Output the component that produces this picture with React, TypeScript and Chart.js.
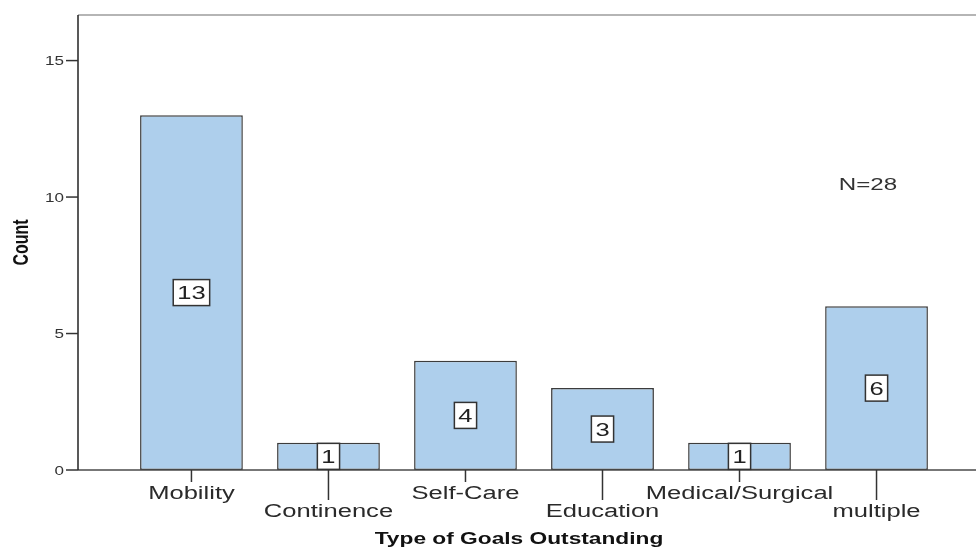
import React, { useEffect, useRef } from "react";
import { Chart, registerables } from "chart.js";

Chart.register(...registerables);

// Goal types and their counts
const categories = ["Mobility", "Continence", "Self-Care", "Education", "Medical/Surgical", "multiple"];
const counts = [13, 1, 4, 3, 1, 6];
const yTicks = [0, 5, 10, 15];
const totalLabel = "N=28";
const xTitle = "Type of Goals Outstanding";
const yTitle = "Count";

const FONT = "'Liberation Sans', Arial, sans-serif";
const SX = 1.42; // horizontal text stretch

function drawText(
  ctx: CanvasRenderingContext2D,
  text: string,
  x: number,
  y: number,
  font: string,
  color: string,
  align: CanvasTextAlign = "center",
  rotate = false
) {
  ctx.save();
  ctx.translate(x, y);
  ctx.scale(SX, 1);
  if (rotate) ctx.rotate(-Math.PI / 2);
  ctx.font = font;
  ctx.fillStyle = color;
  ctx.textAlign = align;
  ctx.textBaseline = "alphabetic";
  ctx.fillText(text, 0, 0);
  ctx.restore();
}

const framePlugin = {
  id: "spssFrame",
  beforeDatasetsDraw(chart: any) {
    const { ctx, chartArea } = chart;
    const { left, right, top } = chartArea;
    ctx.save();
    // top frame line
    ctx.strokeStyle = "#9c9c9c";
    ctx.lineWidth = 1.5;
    ctx.beginPath();
    ctx.moveTo(left, top);
    ctx.lineTo(right, top);
    ctx.stroke();
    ctx.restore();
  },
  afterDatasetsDraw(chart: any) {
    const { ctx, chartArea, scales } = chart;
    const { left, right, top, bottom } = chartArea;
    const xs = scales.x;
    const ys = scales.y;
    ctx.save();
    // x axis line
    ctx.strokeStyle = "#4a4a4a";
    ctx.lineWidth = 1.5;
    ctx.beginPath();
    ctx.moveTo(left, bottom);
    ctx.lineTo(right, bottom);
    ctx.stroke();
    // y axis line
    ctx.strokeStyle = "#222";
    ctx.beginPath();
    ctx.moveTo(left, top);
    ctx.lineTo(left, bottom);
    ctx.stroke();

    // y ticks and labels
    yTicks.forEach((v) => {
      const py = ys.getPixelForValue(v);
      ctx.strokeStyle = "#333";
      ctx.lineWidth = 1.5;
      ctx.beginPath();
      ctx.moveTo(left - 12, py);
      ctx.lineTo(left, py);
      ctx.stroke();
      drawText(ctx, String(v), left - 14, py + 4.5, `12px ${FONT}`, "#333", "right");
    });

    // x ticks and staggered labels
    categories.forEach((c, i) => {
      const px = xs.getPixelForValue(i);
      const lower = i % 2 === 1;
      ctx.strokeStyle = "#333";
      ctx.lineWidth = 1.5;
      ctx.beginPath();
      ctx.moveTo(px, bottom);
      ctx.lineTo(px, bottom + (lower ? 30 : 12));
      ctx.stroke();
      drawText(ctx, c, px, bottom + (lower ? 47 : 29), `18px ${FONT}`, "#2a2a2a");
    });

    // value boxes at bar mid-height
    const meta = chart.getDatasetMeta(0);
    meta.data.forEach((bar: any, i: number) => {
      const v = counts[i];
      const cx = bar.x;
      const cy = ys.getPixelForValue(v / 2);
      ctx.font = `18px ${FONT}`;
      const tw = ctx.measureText(String(v)).width * SX;
      const w = tw + 8;
      const h = 26;
      ctx.fillStyle = "#fff";
      ctx.fillRect(cx - w / 2, cy - h / 2, w, h);
      ctx.strokeStyle = "#333";
      ctx.lineWidth = 1.5;
      ctx.strokeRect(cx - w / 2, cy - h / 2, w, h);
      drawText(ctx, String(v), cx, cy + 6.5, `18px ${FONT}`, "#222");
    });

    // titles and annotation
    drawText(ctx, xTitle, left + 441, bottom + 74, `bold 16px ${FONT}`, "#111");
    drawText(ctx, yTitle, 28, (top + bottom) / 2, `bold 16px ${FONT}`, "#111", "center", true);
    drawText(ctx, totalLabel, 868, 190, `17px ${FONT}`, "#333");
    ctx.restore();
  },
};

export default function App() {
  const canvasRef = useRef<HTMLCanvasElement | null>(null);

  useEffect(() => {
    if (!canvasRef.current) return;
    const chart = new Chart(canvasRef.current, {
      type: "bar",
      data: {
        datasets: [
          {
            label: yTitle,
            data: counts.map((v, i) => ({ x: i, y: v })),
            backgroundColor: "#aecfec",
            borderColor: "#3c3c3c",
            borderWidth: 1.5,
            borderSkipped: false,
            categoryPercentage: 1,
            barPercentage: 0.75,
          },
        ],
      },
      options: {
        animation: false,
        responsive: true,
        maintainAspectRatio: false,
        layout: { padding: { left: 78, top: 15, right: 0, bottom: 79 } },
        plugins: { legend: { display: false }, tooltip: { enabled: false } },
        scales: {
          x: {
            type: "linear",
            min: -0.828,
            max: 5.726,
            offset: false,
            grid: { offset: false },
            display: false,
            // one tick per category position
            afterBuildTicks: (scale: any) => {
              scale.ticks = categories.map((_, i) => ({ value: i }));
            },
          },
          y: { type: "linear", min: 0, max: 16.67, display: false },
        },
      },
      plugins: [framePlugin],
    });
    return () => chart.destroy();
  }, []);

  return (
    <div style={{ position: "absolute", left: 0, top: 0, width: 976, height: 549, background: "#fff" }}>
      <canvas ref={canvasRef} />
    </div>
  );
}
